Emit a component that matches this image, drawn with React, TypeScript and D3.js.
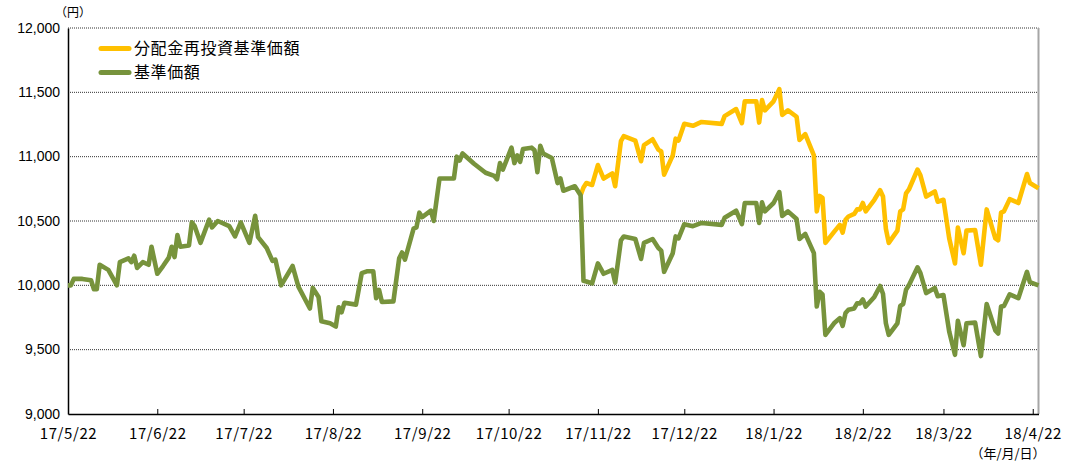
import React, { useEffect, useRef } from 'react';
import * as d3 from 'd3';

// 基準価額 (green) – dates and values
const navDates = [
  '2017-05-22', '2017-05-23', '2017-05-24', '2017-05-27', '2017-05-30', '2017-05-31', '2017-06-01', '2017-06-02',
  '2017-06-05', '2017-06-08', '2017-06-09', '2017-06-12', '2017-06-13', '2017-06-14', '2017-06-15', '2017-06-17',
  '2017-06-19', '2017-06-20', '2017-06-22', '2017-06-24', '2017-06-26', '2017-06-27', '2017-06-28', '2017-06-29',
  '2017-06-30', '2017-07-03', '2017-07-04', '2017-07-05', '2017-07-07', '2017-07-10', '2017-07-11', '2017-07-13',
  '2017-07-17', '2017-07-19', '2017-07-21', '2017-07-24', '2017-07-26', '2017-07-27', '2017-07-30', '2017-08-01',
  '2017-08-02', '2017-08-04', '2017-08-08', '2017-08-10', '2017-08-14', '2017-08-15', '2017-08-17', '2017-08-18',
  '2017-08-21', '2017-08-23', '2017-08-24', '2017-08-25', '2017-08-26', '2017-08-30', '2017-09-01', '2017-09-03',
  '2017-09-05', '2017-09-06', '2017-09-07', '2017-09-08', '2017-09-12', '2017-09-14', '2017-09-15', '2017-09-16',
  '2017-09-19', '2017-09-20', '2017-09-21', '2017-09-22', '2017-09-25', '2017-09-26', '2017-09-28', '2017-10-01',
  '2017-10-03', '2017-10-04', '2017-10-05', '2017-10-06', '2017-10-10', '2017-10-12', '2017-10-14', '2017-10-17',
  '2017-10-18', '2017-10-19', '2017-10-20', '2017-10-23', '2017-10-24', '2017-10-25', '2017-10-26', '2017-10-27',
  '2017-10-30', '2017-10-31', '2017-11-01', '2017-11-02', '2017-11-03', '2017-11-06', '2017-11-08', '2017-11-09',
  '2017-11-10', '2017-11-14', '2017-11-16', '2017-11-17', '2017-11-18', '2017-11-20', '2017-11-22', '2017-11-24',
  '2017-11-27', '2017-11-28', '2017-11-30', '2017-12-01', '2017-12-05', '2017-12-07', '2017-12-08', '2017-12-11',
  '2017-12-13', '2017-12-14', '2017-12-15', '2017-12-18', '2017-12-19', '2017-12-20', '2017-12-22', '2017-12-25',
  '2017-12-28', '2018-01-04', '2018-01-05', '2018-01-09', '2018-01-11', '2018-01-12', '2018-01-16', '2018-01-17',
  '2018-01-18', '2018-01-19', '2018-01-22', '2018-01-24', '2018-01-25', '2018-01-27', '2018-01-30', '2018-01-31',
  '2018-02-02', '2018-02-05', '2018-02-06', '2018-02-07', '2018-02-08', '2018-02-09', '2018-02-12', '2018-02-14',
  '2018-02-15', '2018-02-16', '2018-02-17', '2018-02-19', '2018-02-20', '2018-02-21', '2018-02-22', '2018-02-23',
  '2018-02-26', '2018-02-28', '2018-03-01', '2018-03-02', '2018-03-03', '2018-03-06', '2018-03-07', '2018-03-08',
  '2018-03-09', '2018-03-10', '2018-03-13', '2018-03-14', '2018-03-16', '2018-03-19', '2018-03-20', '2018-03-22',
  '2018-03-24', '2018-03-26', '2018-03-27', '2018-03-29', '2018-03-30', '2018-04-02', '2018-04-04', '2018-04-06',
  '2018-04-09', '2018-04-10', '2018-04-11', '2018-04-12', '2018-04-14', '2018-04-17', '2018-04-20', '2018-04-21',
  '2018-04-24',
];
const navValues = [
  10000, 10000, 10050, 10050, 10040, 9970, 9970, 10160,
  10120, 10000, 10180, 10210, 10180, 10230, 10135, 10180,
  10160, 10300, 10090, 10150, 10215, 10300, 10220, 10390,
  10300, 10310, 10490, 10460, 10330, 10510, 10450, 10500,
  10460, 10380, 10490, 10330, 10540, 10375, 10290, 10190,
  10200, 10000, 10150, 9990, 9820, 9980, 9910, 9720,
  9705, 9680, 9830, 9790, 9865, 9850, 10095, 10110,
  10110, 9900, 9965, 9870, 9875, 10210, 10255, 10200,
  10440, 10450, 10565, 10530, 10580, 10500, 10830, 10830,
  10830, 11000, 10970, 11025, 10945, 10910, 10875, 10850,
  10825, 10950, 10900, 11070, 10950, 11010, 10960, 11060,
  11070, 11050, 10880, 11085, 11025, 10990, 10795, 10830,
  10735, 10770, 10700, 10035, 10030, 10015, 10170, 10090,
  10120, 10020, 10350, 10380, 10360, 10205, 10330, 10360,
  10290, 10270, 10105, 10250, 10380, 10365, 10475, 10460,
  10485, 10470, 10525, 10580, 10475, 10640, 10640, 10485,
  10645, 10575, 10640, 10725, 10540, 10575, 10515, 10360,
  10400, 10250, 9835, 9950, 9930, 9615, 9705, 9745,
  9685, 9785, 9810, 9820, 9860, 9860, 9890, 9835,
  9910, 9995, 9935, 9705, 9615, 9705, 9840, 9855,
  9965, 10000, 10140, 10095, 9940, 9980, 9915, 9925,
  9640, 9460, 9725, 9535, 9705, 9710, 9450, 9855,
  9650, 9625, 9835, 9840, 9930, 9900, 10105, 10025,
  10000,
];

// 分配金再投資基準価額 (yellow) – identical to the green line until the distribution, shown from there on
const reinvestDates = [
  '2017-11-16', '2017-11-17', '2017-11-18', '2017-11-20', '2017-11-22', '2017-11-24', '2017-11-27', '2017-11-28',
  '2017-11-30', '2017-12-01', '2017-12-05', '2017-12-07', '2017-12-08', '2017-12-11', '2017-12-13', '2017-12-14',
  '2017-12-15', '2017-12-18', '2017-12-19', '2017-12-20', '2017-12-22', '2017-12-25', '2017-12-28', '2018-01-04',
  '2018-01-05', '2018-01-09', '2018-01-11', '2018-01-12', '2018-01-16', '2018-01-17', '2018-01-18', '2018-01-19',
  '2018-01-22', '2018-01-24', '2018-01-25', '2018-01-27', '2018-01-30', '2018-01-31', '2018-02-02', '2018-02-05',
  '2018-02-06', '2018-02-07', '2018-02-08', '2018-02-09', '2018-02-12', '2018-02-14', '2018-02-15', '2018-02-16',
  '2018-02-17', '2018-02-19', '2018-02-20', '2018-02-21', '2018-02-22', '2018-02-23', '2018-02-26', '2018-02-28',
  '2018-03-01', '2018-03-02', '2018-03-03', '2018-03-06', '2018-03-07', '2018-03-08', '2018-03-09', '2018-03-10',
  '2018-03-13', '2018-03-14', '2018-03-16', '2018-03-19', '2018-03-20', '2018-03-22', '2018-03-24', '2018-03-26',
  '2018-03-27', '2018-03-29', '2018-03-30', '2018-04-02', '2018-04-04', '2018-04-06', '2018-04-09', '2018-04-10',
  '2018-04-11', '2018-04-12', '2018-04-14', '2018-04-17', '2018-04-20', '2018-04-21', '2018-04-24',
];
const reinvestValues = [
  10700, 10760, 10795, 10780, 10935, 10830, 10870, 10770,
  11120, 11160, 11125, 10965, 11090, 11135, 11055, 11040,
  10860, 11010, 11140, 11125, 11255, 11240, 11270, 11255,
  11315, 11370, 11260, 11430, 11430, 11265, 11440, 11360,
  11430, 11525, 11325, 11360, 11310, 11130, 11175, 11010,
  10575, 10695, 10680, 10330, 10415, 10470, 10410, 10510,
  10535, 10555, 10590, 10590, 10640, 10575, 10665, 10740,
  10690, 10440, 10330, 10425, 10575, 10590, 10715, 10745,
  10900, 10855, 10690, 10730, 10650, 10665, 10365, 10170,
  10450, 10250, 10425, 10430, 10160, 10590, 10365, 10350,
  10565, 10575, 10670, 10640, 10865, 10795, 10755,
];

const seriesNames = ['分配金再投資基準価額', '基準価額'];
const seriesColors = ['#FFC000', '#77933C'];
const yTicks = [9000, 9500, 10000, 10500, 11000, 11500, 12000];
const xTickDates = [
  '2017-05-22', '2017-06-22', '2017-07-22', '2017-08-22', '2017-09-22', '2017-10-22',
  '2017-11-22', '2017-12-22', '2018-01-22', '2018-02-22', '2018-03-22', '2018-04-22',
];
const xDomain = ['2017-05-22', '2018-04-24'];

const parse = d3.timeParse('%Y-%m-%d');

export default function App() {
  const ref = useRef<SVGSVGElement>(null);

  useEffect(() => {
    const svg = d3.select(ref.current);
    svg.selectAll('*').remove();

    const left = 68, right = 1038.5, top = 28, bottom = 414;

    const x = d3.scaleTime()
      .domain(xDomain.map(d => parse(d) as Date))
      .range([left, right]);
    const y = d3.scaleLinear().domain([9000, 12000]).range([bottom, top]);

    // dotted grid
    svg.append('g')
      .selectAll('line')
      .data(yTicks.filter(t => t > 9000))
      .join('line')
      .attr('x1', left).attr('x2', right)
      .attr('y1', d => y(d)).attr('y2', d => y(d))
      .attr('stroke', '#333').attr('stroke-width', 1)
      .attr('stroke-dasharray', '1,1');

    // right border
    svg.append('line')
      .attr('x1', right).attr('x2', right).attr('y1', top).attr('y2', bottom)
      .attr('stroke', '#a6a6a6').attr('stroke-width', 2);

    // y axis
    const yAxis = svg.append('g')
      .attr('transform', `translate(${left},0)`)
      .call(d3.axisLeft(y).tickValues(yTicks).tickSize(0).tickPadding(8).tickFormat(d3.format(',')));
    yAxis.select('.domain').attr('stroke', '#000').attr('stroke-width', 1.5);
    yAxis.selectAll('text')
      .attr('font-family', '"Liberation Sans", Arial, sans-serif')
      .attr('font-size', 14).attr('fill', '#000').attr('dy', '0.3em');

    // x axis
    const xAxis = svg.append('g')
      .attr('transform', `translate(0,${bottom})`)
      .call(d3.axisBottom(x)
        .tickValues(xTickDates.map(d => parse(d) as Date))
        .tickSize(-5).tickSizeOuter(0).tickPadding(14)
        .tickFormat(d3.timeFormat('%y/%-m/%-d') as any));
    xAxis.select('.domain').attr('stroke', '#000').attr('stroke-width', 1.5);
    xAxis.selectAll('.tick line').attr('stroke', '#000');
    xAxis.selectAll('text')
      .attr('font-family', '"Noto Sans CJK JP", sans-serif')
      .attr('font-size', 15).attr('fill', '#000').attr('letter-spacing', 0.6);

    const line = d3.line<[Date, number]>()
      .x(d => x(d[0]))
      .y(d => y(d[1]))
      .curve(d3.curveLinear);

    const reinvest: [Date, number][] = reinvestDates.map((d, i) => [parse(d) as Date, reinvestValues[i]]);
    const nav: [Date, number][] = navDates.map((d, i) => [parse(d) as Date, navValues[i]]);

    svg.append('path').datum(reinvest)
      .attr('d', line).attr('fill', 'none')
      .attr('stroke', seriesColors[0]).attr('stroke-width', 4.6)
      .attr('stroke-linejoin', 'round');
    svg.append('path').datum(nav)
      .attr('d', line).attr('fill', 'none')
      .attr('stroke', seriesColors[1]).attr('stroke-width', 4.6)
      .attr('stroke-linejoin', 'round');

    // legend
    const legend = svg.append('g');
    seriesNames.forEach((name, i) => {
      const ly = 48.5 + i * 24;
      legend.append('line')
        .attr('x1', 101).attr('x2', 129).attr('y1', ly).attr('y2', ly)
        .attr('stroke', seriesColors[i]).attr('stroke-width', 5).attr('stroke-linecap', 'round');
      legend.append('text')
        .attr('x', 134).attr('y', ly).attr('dy', '0.36em')
        .attr('font-family', '"Noto Sans CJK JP", sans-serif')
        .attr('font-size', 16).attr('letter-spacing', 0.6).attr('fill', '#000')
        .text(name);
    });

    // unit labels
    svg.append('text')
      .attr('x', 73).attr('y', 13).attr('dy', '0.36em').attr('text-anchor', 'middle')
      .attr('font-family', '"Noto Sans CJK JP", sans-serif').attr('font-size', 12).attr('fill', '#000')
      .text('（円）');
    svg.append('text')
      .attr('x', 1008).attr('y', 453).attr('dy', '0.36em').attr('text-anchor', 'middle')
      .attr('font-family', '"Noto Sans CJK JP", sans-serif').attr('font-size', 13).attr('fill', '#000')
      .text('（年/月/日）');
  }, []);

  return (
    <svg
      ref={ref}
      width={1065}
      height={462}
      style={{ position: 'absolute', left: 0, top: 0, background: '#fff' }}
    />
  );
}
